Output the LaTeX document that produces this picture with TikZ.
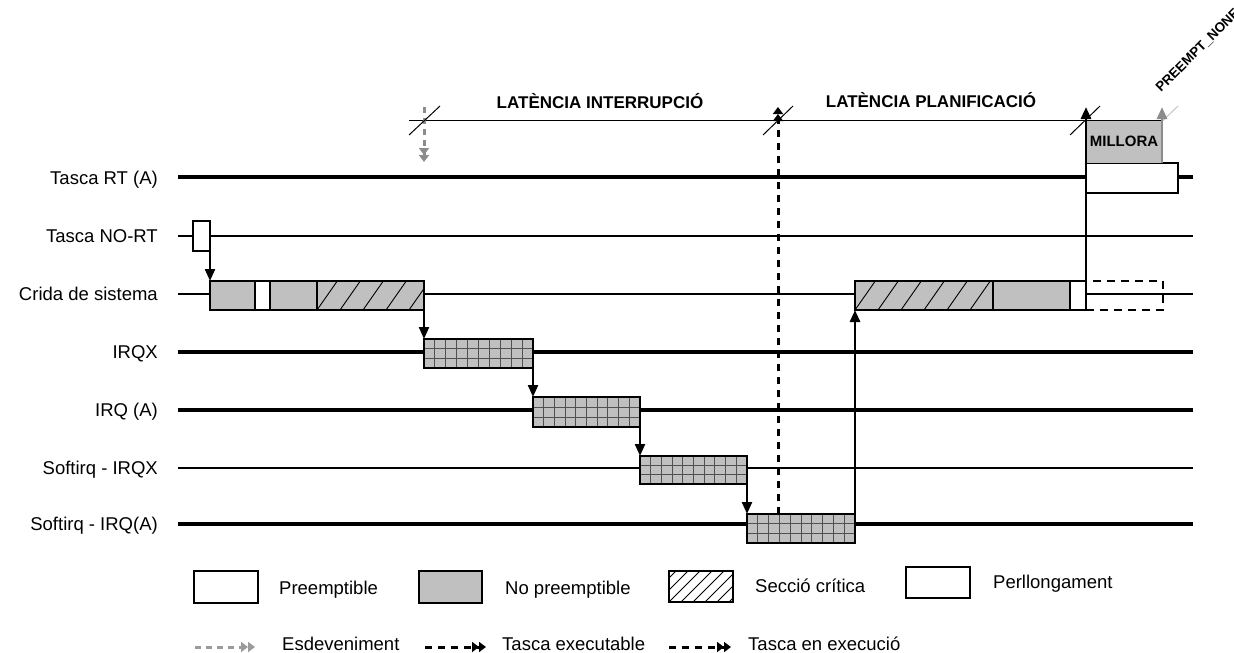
\documentclass[tikz,border=0pt]{standalone}
\usepackage{fontspec}
\setmainfont{Liberation Sans}
\usetikzlibrary{arrows.meta,calc}
\definecolor{boxgray}{RGB}{192,192,192}
\definecolor{arrgray}{RGB}{140,140,140}
\definecolor{leggray}{RGB}{155,155,155}
\definecolor{slashgray}{RGB}{195,195,195}
\definecolor{gridgray}{RGB}{80,80,80}
\newcommand\mybx[6]{\node[blk,#6,minimum width={(#4-#2)*1pt},minimum height={(#5-#3)*1pt}] (#1) at (#2,#3) {};}
\begin{document}
\begin{tikzpicture}[x=1pt,y=-1pt,
  thick line/.style={line width=3.2pt},
  thin line/.style={line width=2.6pt},
  blk/.style={draw,line width=2.8pt,inner sep=0pt,outer sep=0pt,anchor=north west},
  gfill/.style={fill=boxgray},
  wfill/.style={fill=white},
  hatchbig/.style={path picture={
    \foreach \k in {-2,...,8}{
      \draw[line width=0.9pt] ([xshift=\k*23pt]path picture bounding box.south west) -- ++(21pt,30pt);}}},
  hatchsmall/.style={path picture={
    \foreach \k in {-4,...,7}{
      \draw[line width=0.8pt] ([xshift=\k*12pt]path picture bounding box.south west) -- ++(34pt,34pt);}}},
  gridded/.style={fill=boxgray,path picture={
    \foreach \k in {1,...,9}{
      \draw[gridgray,line width=1pt] ($(path picture bounding box.south west)!\k/10!(path picture bounding box.south east)$) -- ($(path picture bounding box.north west)!\k/10!(path picture bounding box.north east)$);}
    \foreach \k in {1,2}{
      \draw[gridgray,line width=1pt] ($(path picture bounding box.south west)!\k/3!(path picture bounding box.north west)$) -- ($(path picture bounding box.south east)!\k/3!(path picture bounding box.north east)$);}}},
  arr/.style={line width=2.2pt,-{Triangle[length=12pt,width=10pt]}},
  uparr/.style={line width=2.8pt,-{Triangle[length=12pt,width=10pt]}},
  dblhead/.style={-{Triangle[length=7pt,width=10pt]Triangle[length=7pt,width=10pt]}},
  evarr/.style={arrgray,line width=3pt,dash pattern=on 6pt off 5pt,dblhead},
  exarr/.style={black,line width=3pt,dash pattern=on 7pt off 6pt,dblhead},
  slashmark/.style={line width=1pt},
  lbl/.style={anchor=base east,inner sep=0pt,font={\fontsize{18.5}{22}\selectfont}},
  legtxt/.style={anchor=base west,inner sep=0pt,font={\fontsize{18.5}{22}\selectfont}},
  toptxt/.style={anchor=base,inner sep=0pt,font={\bfseries\fontsize{17}{20}\selectfont}}
]
\useasboundingbox (0,0) rectangle (1234,653);

% row labels
\node[lbl] (n1) at (158,184) {Tasca RT (A)};
\node[lbl] (n2) at (158,242) {Tasca NO-RT};
\node[lbl] (n3) at (158,300) {Crida de sistema};
\node[lbl] (n4) at (158,358) {IRQX};
\node[lbl] (n5) at (158,416) {IRQ (A)};
\node[lbl] (n6) at (158,474) {Softirq - IRQX};
\node[lbl] (n7) at (158,530) {Softirq - IRQ(A)};

% time lines
\coordinate (r1a) at (178,177); \coordinate (r1b) at (1193,177);
\coordinate (r2a) at (178,236); \coordinate (r2b) at (1193,236);
\coordinate (r3a) at (178,294); \coordinate (r3b) at (1193,294);
\coordinate (r4a) at (178,352); \coordinate (r4b) at (1193,352);
\coordinate (r5a) at (178,410); \coordinate (r5b) at (1193,410);
\coordinate (r6a) at (178,468); \coordinate (r6b) at (1193,468);
\coordinate (r7a) at (178,524); \coordinate (r7b) at (1193,524);
\draw[thick line] (r1a) -- (r1b);
\draw[thin line] (r2a) -- (r2b);
\draw[thin line] (r3a) -- (r3b);
\draw[thick line] (r4a) -- (r4b);
\draw[thick line] (r5a) -- (r5b);
\draw[thin line] (r6a) -- (r6b);
\draw[thick line] (r7a) -- (r7b);

% latency line and marks
\coordinate (la) at (409,120); \coordinate (lb) at (1162,120);
\draw[line width=1pt] (la) -- (lb);
\coordinate (s1) at (424,120);
\coordinate (s2) at (778,120);
\coordinate (s3) at (1086,120);
\coordinate (s4) at (1163,120);
\draw[slashgray,line width=1pt] ([shift={(-15,15)}]s4) -- ([shift={(15,-14)}]s4);

\node[toptxt] (li) at (600,108) {LATÈNCIA INTERRUPCIÓ};
\node[toptxt] (lp) at (931,107) {LATÈNCIA PLANIFICACIÓ};

% boxes
\mybx{nort}{193}{221}{210}{251}{wfill}
\mybx{c1}{210}{281}{255}{310}{gfill}
\mybx{c2}{255}{281}{270}{310}{wfill}
\mybx{c3}{270}{281}{317}{310}{gfill}
\mybx{c4}{317}{281}{424}{310}{gfill,hatchbig}
\mybx{irqx}{424}{339}{533}{368}{gridded}
\mybx{irqa}{533}{397}{640}{427}{gridded}
\mybx{sirqx}{640}{456}{747}{484}{gridded}
\mybx{sirqa}{747}{514}{855}{543}{gridded}
\mybx{c5}{855}{281}{993}{310}{gfill,hatchbig}
\mybx{c6}{993}{281}{1070}{310}{gfill}
\mybx{c7}{1070}{281}{1086}{310}{wfill}
\node[blk,draw,dash pattern=on 8pt off 6pt,minimum width=77pt,minimum height=29pt] (ext) at (1086,281) {};
\mybx{rt}{1086}{163}{1178}{193}{wfill}
\node[anchor=north west,fill=boxgray,inner sep=0pt,outer sep=0pt,minimum width=76pt,minimum height=43pt,
  font={\bfseries\fontsize{15}{18}\selectfont}] (mil) at (1086,120) {MILLORA};
\draw[line width=1pt] (mil.north west) -- (mil.north east);

% connectors
\draw[arr] (nort.south east) -- (c1.north west);
\draw[arr] (c4.south east) -- (irqx.north west);
\draw[arr] (irqx.south east) -- (irqa.north west);
\draw[arr] (irqa.south east) -- (sirqx.north west);
\draw[arr] (sirqx.south east) -- (sirqa.north west);
\draw[uparr] (sirqa.north east) -- (c5.south west);
\coordinate (t2) at (778,107);
\coordinate (t3) at (1086,107);
\coordinate (t4) at (1162,107);
\draw[exarr] (t2 |- sirqa.north) -- (t2);
\draw[uparr] (c7.north east) -- (t3);
\draw[uparr,arrgray] (mil.south east) -- (t4);
\coordinate (e1) at (424,107); \coordinate (e2) at (424,162);
\draw[evarr] (e1) -- (e2);

\draw[slashmark] ([shift={(-15,15)}]s1) -- ([shift={(16,-14)}]s1);
\draw[slashmark] ([shift={(-15,15)}]s2) -- ([shift={(15,-14)}]s2);
\draw[slashmark] ([shift={(-16,15)}]s3) -- ([shift={(14,-14)}]s3);

\node[rotate=45,anchor=base west,inner sep=0pt,font={\bfseries\fontsize{13.5}{15}\selectfont}] (pn) at (1161,93) {PREEMPT\_NONE};

% legend
\mybx{lg1}{194}{571}{258}{603}{wfill}
\node[legtxt] (lt1) at (279,594) {Preemptible};
\mybx{lg2}{419}{571}{482}{603}{gfill}
\node[legtxt] (lt2) at (505,594) {No preemptible};
\mybx{lg3}{669}{571}{733}{602}{wfill,hatchsmall}
\node[legtxt] (lt3) at (755,592) {Secció crítica};
\mybx{lg4}{906}{567}{970}{598}{wfill}
\node[legtxt] (lt4) at (993,588) {Perllongament};

\coordinate (a1) at (195,647); \coordinate (a2) at (255,647);
\coordinate (a3) at (425,647); \coordinate (a4) at (486,647);
\coordinate (a5) at (669,647); \coordinate (a6) at (731,647);
\draw[evarr,leggray] (a1) -- (a2);
\draw[exarr] (a3) -- (a4);
\draw[exarr] (a5) -- (a6);
\node[legtxt] (lt5) at (282,650) {Esdeveniment};
\node[legtxt] (lt6) at (502,650) {Tasca executable};
\node[legtxt] (lt7) at (748,650) {Tasca en execució};
\end{tikzpicture}
\end{document}
